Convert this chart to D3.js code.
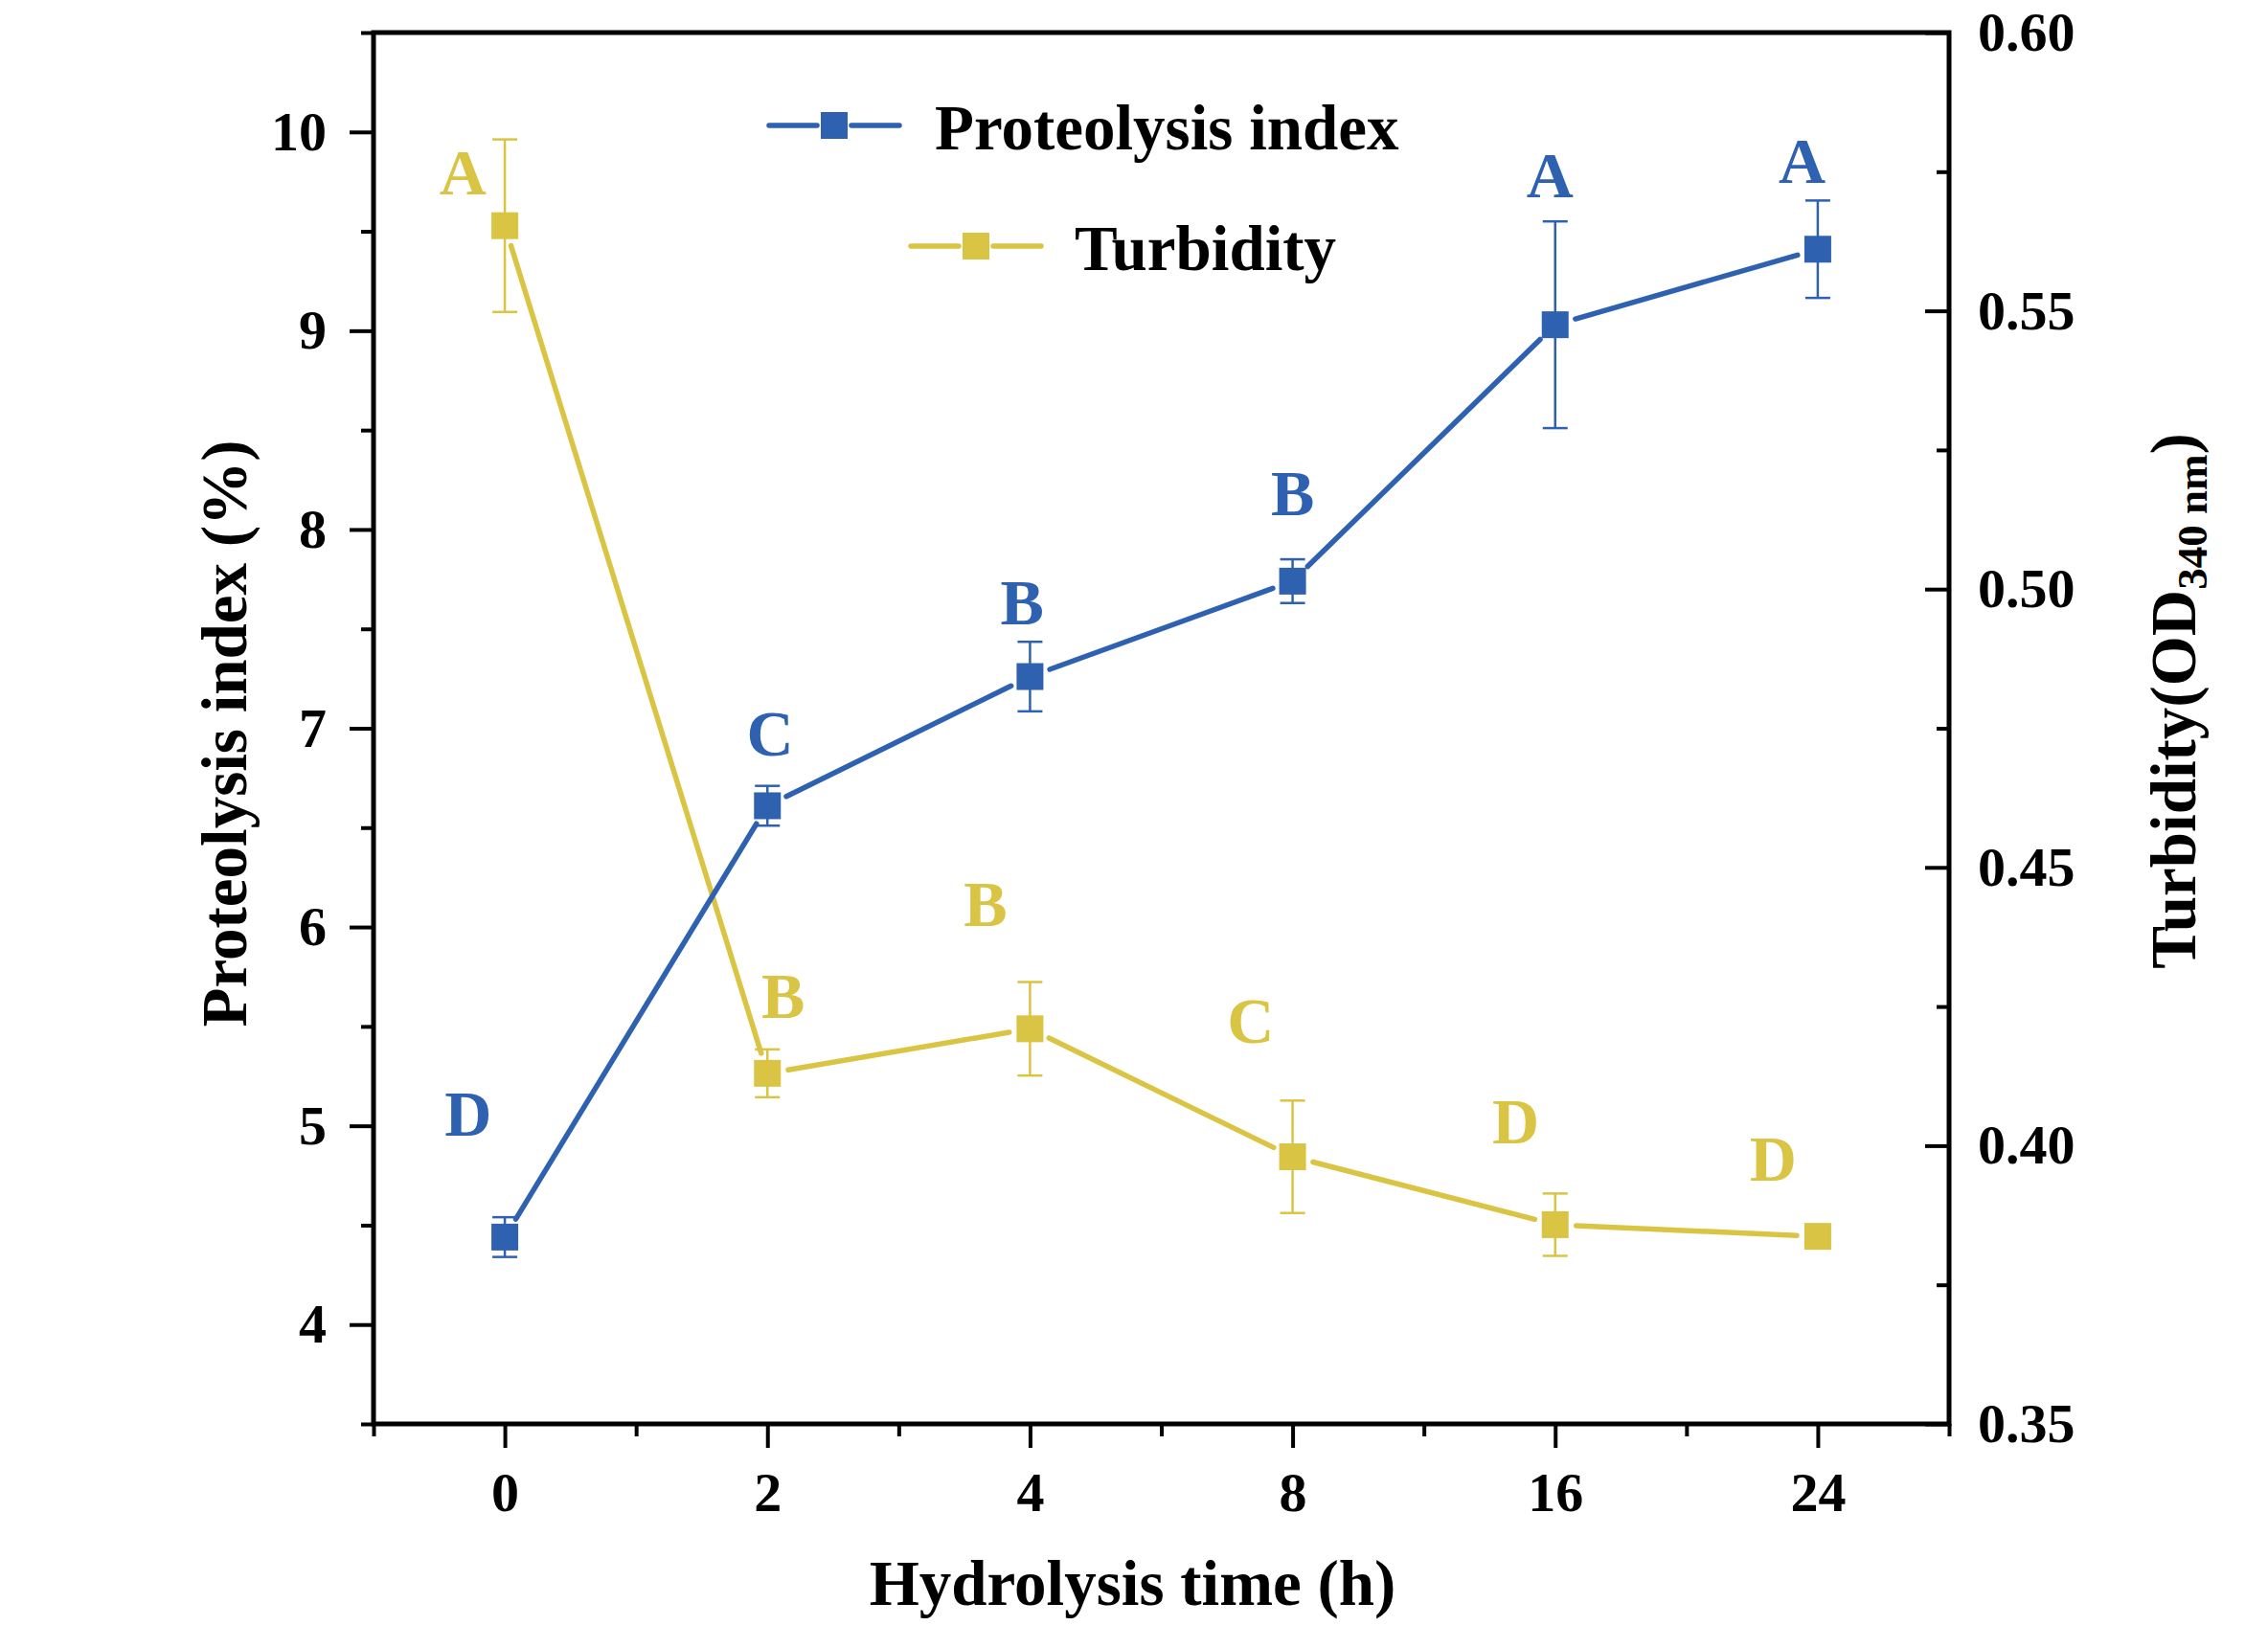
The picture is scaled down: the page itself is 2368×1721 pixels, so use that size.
<!DOCTYPE html>
<html>
<head>
<meta charset="utf-8">
<script src="https://cdn.jsdelivr.net/npm/d3@7"></script>
<style>
  html, body { margin: 0; padding: 0; background: #ffffff; }
  svg { display: block; }
  text { font-family: "Liberation Serif", "Times New Roman", serif; font-weight: bold; }
</style>
</head>
<body>
<svg id="chart" width="2368" height="1721"></svg>
<script>
// ---------------- data ----------------
const timeLabels = ["0", "2", "4", "8", "16", "24"];
const proteolysis = [4.44, 6.61, 7.26, 7.74, 9.03, 9.41];
const proteolysisErr = [0.10, 0.10, 0.175, 0.11, 0.52, 0.245];
const turbidity = [0.5653, 0.413, 0.421, 0.398, 0.3858, 0.3837];
const turbidityErr = [0.0155, 0.0043, 0.0084, 0.0101, 0.0056, 0.002];
const leftTicks = [4, 5, 6, 7, 8, 9, 10];
const rightTicks = [0.35, 0.40, 0.45, 0.50, 0.55, 0.60];
// significance letters and their anchor positions (x in category index, y in axis units)
const proteolysisLetters = ["D", "C", "B", "B", "A", "A"];
const proteolysisLetterX = [-0.14, 1.01, 1.97, 3.0, 3.98, 4.94];
const proteolysisLetterY = [5.06, 6.97, 7.63, 8.18, 9.78, 9.85];
const turbidityLetters = ["A", "B", "B", "C", "D", "D"];
const turbidityLetterX = [-0.16, 1.06, 1.83, 2.84, 3.85, 4.83];
const turbidityLetterY = [0.5747, 0.4268, 0.4434, 0.4224, 0.4042, 0.3975];

// ---------------- layout ----------------
const W = 2368, H = 1721;
const L = 390, R = 2035, T = 34, B = 1487;
const blue = "#2f61b1";
const yellow = "#dac443";
const svg = d3.select("#chart");
svg.append("rect").attr("width", W).attr("height", H).attr("fill", "#ffffff");

const x = d3.scaleLinear().domain([-0.5, 5.5]).range([L, R]);
const yL = d3.scaleLinear().domain([3.5, 10.5]).range([B, T]);
const yR = d3.scaleLinear().domain([0.35, 0.60]).range([B, T]);
const idx = d3.range(timeLabels.length);

function styleAxis(g, fs) {
  g.select(".domain").remove();
  g.selectAll(".tick line").attr("stroke", "#000").attr("stroke-width", 4);
  g.selectAll(".tick text").attr("fill", "#000").style("font-size", fs + "px")
    .style("font-family", '"Liberation Serif", "Times New Roman", serif').style("font-weight", "bold");
}

// x axis
const gx = svg.append("g").attr("transform", `translate(0,${B})`)
  .call(d3.axisBottom(x).tickValues(idx).tickFormat(i => timeLabels[i]).tickSize(25).tickPadding(25));
styleAxis(gx, 58);
const gxm = svg.append("g").attr("transform", `translate(0,${B})`)
  .call(d3.axisBottom(x).tickValues(d3.range(-0.5, 6, 1)).tickFormat("").tickSize(13));
styleAxis(gxm, 58);

// left axis
const gl = svg.append("g").attr("transform", `translate(${L},0)`)
  .call(d3.axisLeft(yL).tickValues(leftTicks).tickFormat(d3.format("d")).tickSize(25).tickPadding(24));
styleAxis(gl, 58);
const glm = svg.append("g").attr("transform", `translate(${L},0)`)
  .call(d3.axisLeft(yL).tickValues(d3.range(3.5, 11, 1)).tickFormat("").tickSize(13));
styleAxis(glm, 58);

// right axis (ticks inward)
const gr = svg.append("g").attr("transform", `translate(${R},0)`)
  .call(d3.axisRight(yR).tickValues(rightTicks).tickFormat(d3.format(".2f")).tickSize(-25).tickPadding(30));
styleAxis(gr, 58);
const grm = svg.append("g").attr("transform", `translate(${R},0)`)
  .call(d3.axisRight(yR).tickValues(d3.range(0.375, 0.6, 0.05)).tickFormat("").tickSize(-13));
styleAxis(grm, 58);

// frame
svg.append("rect").attr("x", L).attr("y", T).attr("width", R - L).attr("height", B - T)
  .attr("fill", "none").attr("stroke", "#000").attr("stroke-width", 5);

// axis titles
svg.append("text").attr("x", (L + R) / 2 - 30).attr("y", 1676).attr("text-anchor", "middle")
  .style("font-size", "67px").attr("fill", "#000").text("Hydrolysis time (h)");
svg.append("text").attr("transform", "translate(257,766) rotate(-90)").attr("text-anchor", "middle")
  .style("font-size", "67px").attr("fill", "#000").text("Proteolysis index (%)");
const rt = svg.append("text").attr("transform", "translate(2292,732) rotate(-90)").attr("text-anchor", "middle")
  .style("font-size", "67px").attr("fill", "#000");
rt.append("tspan").text("Turbidity(OD");
rt.append("tspan").style("font-size", "45px").attr("dy", 12).text("340 nm");
rt.append("tspan").attr("dy", -12).text(")");

// ---------------- series ----------------
const SQ = 28, CAP = 26, GAP = 22;
function drawSeries(vals, errs, yScale, color) {
  const g = svg.append("g");
  const pts = idx.map(i => [x(i), yScale(vals[i])]);
  // connecting segments with gaps around symbols
  for (let i = 0; i < pts.length - 1; i++) {
    const [x1, y1] = pts[i], [x2, y2] = pts[i + 1];
    const dx = x2 - x1, dy = y2 - y1, len = Math.hypot(dx, dy);
    const ux = dx / len, uy = dy / len;
    g.append("line")
      .attr("x1", x1 + ux * GAP).attr("y1", y1 + uy * GAP)
      .attr("x2", x2 - ux * GAP).attr("y2", y2 - uy * GAP)
      .attr("stroke", color).attr("stroke-width", 5.5).attr("stroke-linecap", "round");
  }
  // error bars
  idx.forEach(i => {
    const cx = x(i), top = yScale(vals[i] + errs[i]), bot = yScale(vals[i] - errs[i]);
    g.append("line").attr("x1", cx).attr("x2", cx).attr("y1", top).attr("y2", bot)
      .attr("stroke", color).attr("stroke-width", 2.5);
    [top, bot].forEach(yy => g.append("line").attr("x1", cx - CAP / 2).attr("x2", cx + CAP / 2)
      .attr("y1", yy).attr("y2", yy).attr("stroke", color).attr("stroke-width", 2.5));
  });
  // squares
  g.selectAll("rect.pt").data(idx).enter().append("rect")
    .attr("x", i => x(i) - SQ / 2).attr("y", i => yScale(vals[i]) - SQ / 2)
    .attr("width", SQ).attr("height", SQ).attr("fill", color);
}
drawSeries(turbidity, turbidityErr, yR, yellow);
drawSeries(proteolysis, proteolysisErr, yL, blue);

// letters
function drawLetters(letters, lx, ly, yScale, color) {
  svg.append("g").selectAll("text").data(letters).enter().append("text")
    .attr("x", (d, i) => x(lx[i])).attr("y", (d, i) => yScale(ly[i]))
    .attr("dy", "0.33em").attr("text-anchor", "middle")
    .style("font-size", "68px").attr("fill", color).text(d => d);
}
drawLetters(proteolysisLetters, proteolysisLetterX, proteolysisLetterY, yL, blue);
drawLetters(turbidityLetters, turbidityLetterX, turbidityLetterY, yR, yellow);

// ---------------- legend ----------------
const legendItems = [
  { name: "Proteolysis index", color: blue, cx: 871, cy: 131, tx: 976, ty: 156 },
  { name: "Turbidity", color: yellow, cx: 1019, cy: 257, tx: 1122, ty: 282 }
];
legendItems.forEach(it => {
  const g = svg.append("g");
  [[-68, -18], [18, 68]].forEach(([a, b]) => g.append("line")
    .attr("x1", it.cx + a).attr("x2", it.cx + b).attr("y1", it.cy).attr("y2", it.cy)
    .attr("stroke", it.color).attr("stroke-width", 5.5).attr("stroke-linecap", "round"));
  g.append("rect").attr("x", it.cx - SQ / 2).attr("y", it.cy - SQ / 2).attr("width", SQ).attr("height", SQ)
    .attr("fill", it.color);
  g.append("text").attr("x", it.tx).attr("y", it.ty).style("font-size", "67px").attr("fill", "#000").text(it.name);
});
</script>
</body>
</html>
